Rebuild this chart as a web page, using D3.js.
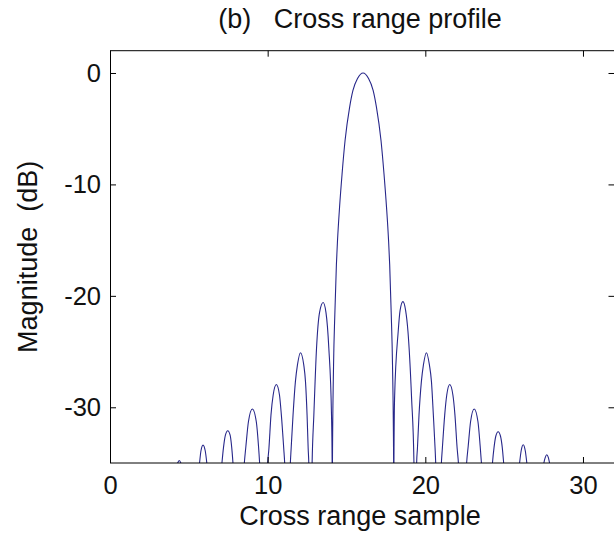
<!DOCTYPE html>
<html>
<head>
<meta charset="utf-8">
<script src="https://cdn.jsdelivr.net/npm/d3@7"></script>
<style>
  html, body { margin: 0; padding: 0; background: #fff; }
  svg { display: block; font-family: "Liberation Sans", Arial, sans-serif; }
  text { white-space: pre; }
</style>
</head>
<body>
<svg id="chart" width="614" height="541"></svg>
<script>
// Cross range profile.
// Points below -35 dB are the nulls between lobes; they get clipped by the axes.
const crossX = [
  0, 4.29, 4.39, 4.49,
  5.1, 5.68, 5.77, 5.9, 6.04, 6.14,
  6.6, 7.1, 7.2, 7.32, 7.47, 7.62, 7.72, 7.8,
  8.15, 8.52, 8.62, 8.78, 9.03, 9.28, 9.42, 9.49,
  9.75, 10.0, 10.08, 10.21, 10.35, 10.55, 10.75, 10.87, 11.02, 11.08,
  11.27, 11.44, 11.49, 11.61, 11.76, 11.89, 12.08, 12.29, 12.4, 12.5, 12.57, 12.61,
  12.72, 12.82, 12.93, 13.1, 13.29, 13.52, 13.7, 13.88, 14.05, 14.09,
  14.1, 14.11, 14.18, 14.26, 14.36, 14.43, 14.56, 14.72, 14.91, 15.2, 15.41, 15.7, 16.05,
  16.4, 16.69, 16.9, 17.19, 17.38, 17.54, 17.67, 17.74, 17.84, 17.92, 17.99,
  18.0, 18.01, 18.05, 18.28, 18.4, 18.58, 18.75, 18.9, 19.13, 19.28,
  19.37, 19.45, 19.5, 19.6, 19.75, 19.88, 20.07, 20.26, 20.39, 20.51, 20.62, 20.66,
  20.84, 21.02, 21.08, 21.23, 21.36, 21.55, 21.75, 21.88, 22.02, 22.1,
  22.36, 22.62, 22.72, 22.87, 23.1, 23.34, 23.48, 23.56,
  23.9, 24.26, 24.36, 24.47, 24.62, 24.77, 24.88, 24.97,
  25.45, 25.98, 26.08, 26.21, 26.34, 26.44,
  27.0, 27.52, 27.61, 27.7, 27.8, 27.88,
  32
];
const magnitudeDb = [
  -50, -35, -34.77, -35,
  -45, -35, -33.9, -33.4, -33.9, -35,
  -45, -35, -33.6, -32.5, -32.1, -32.5, -33.6, -35,
  -45, -35, -33.5, -31.3, -30.15, -31.3, -33.5, -35,
  -45, -35, -33.7, -30.7, -28.9, -27.96, -28.9, -30.7, -33.7, -35,
  -45, -35, -33.7, -30.7, -27.7, -26.2, -25.1, -26.2, -27.7, -30.7, -33.7, -35,
  -45, -35, -30.7, -24.7, -21.5, -20.6, -21.5, -24.7, -30.7, -35,
  -45, -35, -26.2, -21.7, -17.2, -15.06, -12.06, -9.06, -6.06, -3.06, -1.56, -0.5, 0,
  -0.5, -1.56, -3.06, -6.06, -9.06, -12.06, -15.06, -17.2, -21.7, -26.2, -35,
  -45, -35, -29.2, -23.2, -21.3, -20.52, -21.3, -23.2, -29.2, -35,
  -45, -35, -33.7, -30.7, -27.7, -26.2, -25.1, -26.2, -27.7, -30.7, -33.7, -35,
  -45, -35, -33.7, -30.7, -28.9, -27.96, -28.9, -30.7, -33.7, -35,
  -45, -35, -33.5, -31.3, -30.15, -31.3, -33.5, -35,
  -45, -35, -33.6, -32.6, -32.2, -32.6, -33.6, -35,
  -45, -35, -33.9, -33.36, -33.9, -35,
  -45, -35, -34.5, -34.26, -34.5, -35,
  -50
];

const xTicks = [0, 10, 20, 30];
const yTicks = [0, -10, -20, -30];
const xDomain = [0, 32];
const yDomain = [-35, 2];

const titleText = "(b)   Cross range profile";
const xLabelText = "Cross range sample";
const yLabelText = "Magnitude  (dB)";

const frame = { left: 110, right: 614.5, top: 50.7, bottom: 463 };
const tickLen = 6;

function drawChart() {
  const svg = d3.select("#chart");

  const x = d3.scaleLinear().domain(xDomain).range([frame.left, frame.right]);
  const y = d3.scaleLinear().domain(yDomain).range([frame.bottom, frame.top]);

  svg.append("defs")
    .append("clipPath")
    .attr("id", "plot-clip")
    .append("rect")
    .attr("x", frame.left)
    .attr("y", frame.top)
    .attr("width", frame.right - frame.left)
    .attr("height", frame.bottom - frame.top);

  const points = crossX.map((d, i) => [d, magnitudeDb[i]]);
  const line = d3.line()
    .x((d) => x(d[0]))
    .y((d) => y(d[1]))
    .curve(d3.curveMonotoneX);

  svg.append("path")
    .datum(points)
    .attr("clip-path", "url(#plot-clip)")
    .attr("fill", "none")
    .attr("stroke", "#27278a")
    .attr("stroke-width", 1.1)
    .attr("d", line);

  // axes: ticks point inward, MATLAB style
  const styleAxis = (g, showText) => {
    g.select(".domain").remove();
    g.selectAll("line").attr("stroke", "#000");
    g.selectAll("text")
      .attr("fill", "#111")
      .style("font-size", "25.5px")
      .style("display", showText ? null : "none");
  };

  svg.append("g")
    .attr("transform", `translate(0,${frame.bottom})`)
    .call(d3.axisBottom(x).tickValues(xTicks).tickSizeInner(-tickLen).tickSizeOuter(0).tickPadding(13))
    .call(styleAxis, true);

  svg.append("g")
    .attr("transform", `translate(0,${frame.top})`)
    .call(d3.axisTop(x).tickValues(xTicks).tickSizeInner(-tickLen).tickSizeOuter(0))
    .call(styleAxis, false);

  svg.append("g")
    .attr("transform", `translate(${frame.left},0)`)
    .call(d3.axisLeft(y).tickValues(yTicks).tickSizeInner(-tickLen).tickSizeOuter(0).tickPadding(9)
      .tickFormat((d) => (d < 0 ? "-" + Math.abs(d) : d)))
    .call(styleAxis, true);

  svg.append("g")
    .attr("transform", `translate(${frame.right},0)`)
    .call(d3.axisRight(y).tickValues(yTicks).tickSizeInner(-tickLen).tickSizeOuter(0))
    .call(styleAxis, false);

  svg.append("rect")
    .attr("x", frame.left + 0.5)
    .attr("y", frame.top)
    .attr("width", frame.right - frame.left)
    .attr("height", frame.bottom - frame.top)
    .attr("fill", "none")
    .attr("stroke", "#000")
    .attr("stroke-width", 1);

  svg.append("text")
    .attr("x", 360)
    .attr("y", 28)
    .attr("text-anchor", "middle")
    .attr("fill", "#111")
    .style("font-size", "27px")
    .text(titleText);

  svg.append("text")
    .attr("x", 360)
    .attr("y", 525)
    .attr("text-anchor", "middle")
    .attr("fill", "#111")
    .style("font-size", "27px")
    .text(xLabelText);

  svg.append("text")
    .attr("transform", `translate(37,${(frame.top + frame.bottom) / 2}) rotate(-90)`)
    .attr("text-anchor", "middle")
    .attr("fill", "#111")
    .style("font-size", "27px")
    .text(yLabelText);
}

drawChart();
</script>
</body>
</html>
